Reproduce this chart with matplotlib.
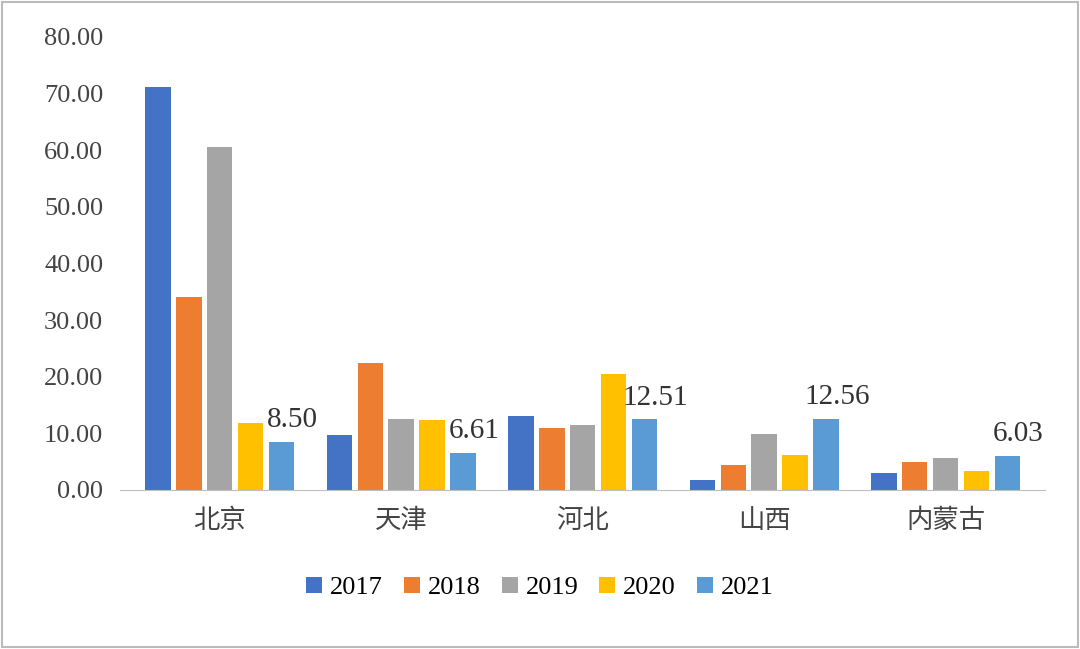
import matplotlib.pyplot as plt
import numpy as np

plt.rcParams["font.family"] = ["Liberation Serif", "Noto Sans CJK SC"]

regions = ["北京", "天津", "河北", "山西", "内蒙古"]
years = ["2017", "2018", "2019", "2020", "2021"]
v2017 = [71.2, 9.7, 13.1, 1.8, 3.0]
v2018 = [34.1, 22.4, 11.0, 4.4, 4.9]
v2019 = [60.6, 12.5, 11.5, 9.9, 5.7]
v2020 = [11.8, 12.4, 20.5, 6.2, 3.4]
v2021 = [8.50, 6.61, 12.51, 12.56, 6.03]
series = [v2017, v2018, v2019, v2020, v2021]
colors = ["#4472C4", "#ED7D31", "#A5A5A5", "#FFC000", "#5B9BD5"]

fig = plt.figure(figsize=(10.8, 6.49), dpi=100)
ax = fig.add_axes([0.111, 0.245, 0.857, 0.698])

x = np.arange(len(regions))
w = 0.14
for i, (vals, c, y) in enumerate(zip(series, colors, years)):
    bars = ax.bar(x + (i - 2) * (w + 0.03), vals, w, color=c, label=y)
    if i == 4:
        for b, v in zip(bars, vals):
            ax.text(b.get_x() + b.get_width() / 2 + 0.06, v + 1.5, f"{v:.2f}",
                    ha="center", va="bottom", fontsize=21, color="#333333")

ax.set_ylim(0, 80)
ax.set_yticks(range(0, 81, 10))
ax.set_yticklabels([f"{t:.2f}" for t in range(0, 81, 10)], fontsize=19, color="#444444")
ax.set_xlim(-0.55, 4.55)
ax.set_xticks(x)
ax.set_xticklabels(regions, fontsize=19, color="#444444", fontfamily="Noto Sans CJK SC")
ax.tick_params(length=0, pad=12)
for s in ["top", "right", "left"]:
    ax.spines[s].set_visible(False)
ax.spines["bottom"].set_color("#BFBFBF")

fig.text(0.54, 0.54, "MP 中大咨询集团", fontsize=60, color="#F4F4F4", ha="center",
         va="center", zorder=-1, fontweight="bold", fontfamily="Noto Sans CJK SC")
fig.legend(loc="lower center", bbox_to_anchor=(0.5, 0.04), ncol=5, frameon=False,
           fontsize=19, handlelength=0.6, handleheight=0.6, columnspacing=0.8,
           handletextpad=0.3)
fig.patches.append(plt.Rectangle((0.002, 0.003), 0.996, 0.994, transform=fig.transFigure,
                                 fill=False, edgecolor="#BBBBBB", linewidth=1.5))
fig.savefig("out.png")
